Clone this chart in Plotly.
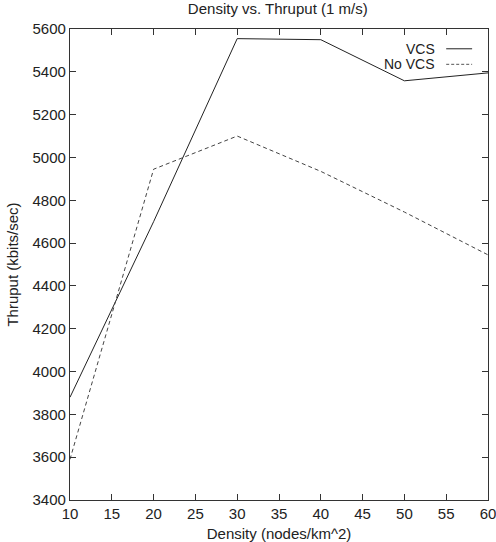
import plotly.graph_objects as go

density = [10, 20, 30, 40, 50, 60]
vcs = [3880, 4700, 5555, 5550, 5358, 5395]
no_vcs = [3590, 4945, 5100, 4935, 4745, 4545]
x_ticks = [10, 15, 20, 25, 30, 35, 40, 45, 50, 55, 60]
y_ticks = [3400, 3600, 3800, 4000, 4200, 4400, 4600, 4800, 5000, 5200, 5400, 5600]

FONT = "Liberation Sans, Arial, Helvetica, sans-serif"
TXT = "#222222"

fig = go.Figure()
fig.add_trace(go.Scatter(x=density, y=vcs, mode="lines", name="VCS",
                         line=dict(color="#222222", width=1)))
fig.add_trace(go.Scatter(x=density, y=no_vcs, mode="lines", name="No VCS",
                         line=dict(color="#444444", width=1, dash="4px,3px")))

axis_common = dict(showgrid=False, zeroline=False, showline=True, linecolor="#333333",
                   linewidth=1.3, mirror="allticks", ticks="inside", ticklen=6,
                   tickcolor="#333333", ticklabeloverflow="allow", automargin=False,
                   tickfont=dict(family=FONT, size=15, color=TXT))

fig.update_layout(
    width=496, height=542,
    margin=dict(l=70, r=8, t=29, b=42),
    paper_bgcolor="white", plot_bgcolor="white",
    showlegend=False,
    title=dict(text="Density vs. Thruput (1 m/s)", x=0.56, xanchor="center",
               y=0.984, yanchor="middle",
               font=dict(family=FONT, size=15, color=TXT)),
    xaxis=dict(range=[10, 60], tickvals=x_ticks, ticktext=[str(v) for v in x_ticks],
               title=dict(text="Density (nodes/km^2)", standoff=9,
                          font=dict(family=FONT, size=15, color=TXT)),
               **axis_common),
    yaxis=dict(range=[3400, 5600], tickvals=y_ticks, ticktext=[str(v) for v in y_ticks],
               title=dict(text="Thruput (kbits/sec)", standoff=10,
                          font=dict(family=FONT, size=15, color=TXT)),
               **axis_common),
)

# legend drawn gnuplot-style: text right-aligned, sample line on the right
legend_items = [("VCS", "solid", "#222222"), ("No VCS", "3px,2px", "#555555")]
for i, (label, dash, color) in enumerate(legend_items):
    yc = 0.958 - i * 0.033
    fig.add_annotation(x=0.878, y=yc, xref="paper", yref="paper", text=label,
                       showarrow=False, xanchor="right", yanchor="middle",
                       font=dict(family=FONT, size=14, color=TXT))
    fig.add_shape(type="line", xref="paper", yref="paper",
                  x0=0.900, x1=0.962, y0=yc, y1=yc,
                  line=dict(color=color, width=1, dash=dash))

fig.write_html("out.html")
